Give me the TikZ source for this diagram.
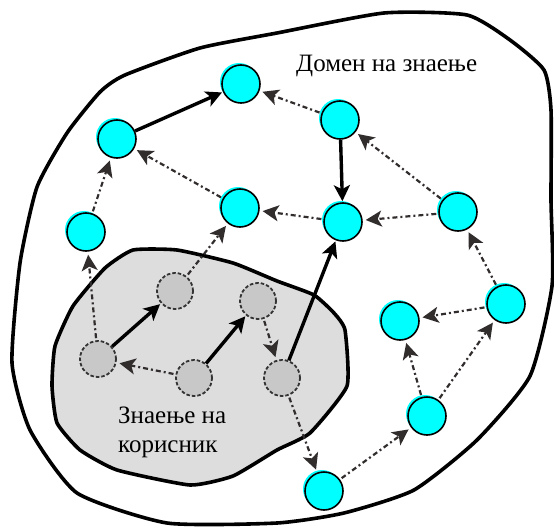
\documentclass[tikz,border=0pt]{standalone}
\usepackage{fontspec}
\setmainfont{Liberation Serif}
\newfontfamily\cyrserif{Liberation Serif}
\usetikzlibrary{arrows.meta}
\definecolor{kcyan}{RGB}{0,255,255}
\definecolor{ufill}{RGB}{221,221,221}
\definecolor{unfill}{RGB}{200,200,200}
\definecolor{dotc}{RGB}{50,45,45}
\begin{document}
\begin{tikzpicture}[x=1pt,y=-1pt,
 knode/.style={circle,draw=black,line width=1.6pt,fill=kcyan,minimum size=38pt,inner sep=0pt},
 unode/.style={circle,draw=black!80,dash pattern=on 3.5pt off 2pt,line width=1.8pt,fill=unfill,minimum size=36pt,inner sep=0pt},
 solidarr/.style={line width=3.4pt,-{Stealth[length=16pt,width=16pt,inset=4pt]},shorten >=1pt},
 dotarr/.style={line width=2.2pt,draw=dotc,dash pattern=on 5pt off 3pt on 2pt off 3pt,-{Stealth[length=16pt,width=16pt,inset=4pt]},shorten >=3pt,shorten <=2pt},
 blob/.style={line width=3.6pt,line join=round},
 lbl/.style={font=\cyrserif\fontsize{25}{29}\selectfont,inner sep=0pt,align=left}
]
\useasboundingbox (0,0) rectangle (554,527);
% outer domain
\draw[blob] plot[smooth cycle,tension=0.35] coordinates {(200,48) (277,33) (384,13) (467,15) (510,40) (544,70) (551,110) (551,200) (552,286) (530,376) (477,440) (414,490) (344,513) (277,523) (167,523) (77,493) (30,430) (12,363) (20,263) (37,187) (67,133) (100,92) (125,75)};
% user knowledge
\draw[blob,fill=ufill] plot[smooth cycle,tension=0.3] coordinates {(133,250) (177,250) (233,263) (277,281) (314,295) (334,313) (345,330) (347,386) (310,433) (277,450) (233,476) (190,485) (117,470) (80,450) (57,423) (52,386) (55,346) (73,306) (105,268)};
% knowledge nodes
\foreach \x/\y/\n in {117/139/A,241/84/B,340/120/C,240/208/D,343/222/E,458/212/F,86/232/G,400/321/H,506/304/I,427/416/J,324/491/K}{
  \fill[kcyan] (\x-2,\y-2) circle[radius=19pt];
  \node[knode] (\n) at (\x,\y) {};
}
% user nodes
\node[unode] (g1) at (175,291) {};
\node[unode] (g2) at (258,301) {};
\node[unode] (g3) at (98,359) {};
\node[unode] (g4) at (194,378) {};
\node[unode] (g5) at (282,378) {};
% solid arrows
\draw[solidarr] (A) -- (B);
\draw[solidarr] (C) -- (E);
\draw[solidarr] (g3) -- (g1);
\draw[solidarr] (g4) -- (g2);
\draw[solidarr] (g5) -- (E);
% dotted arrows
\draw[dotarr] (C) -- (B);
\draw[dotarr] (D) -- (A);
\draw[dotarr] (G) -- (A);
\draw[dotarr] (E) -- (D);
\draw[dotarr] (F) -- (E);
\draw[dotarr] (F) -- (C);
\draw[dotarr] (I) -- (F);
\draw[dotarr] (g1) -- (D);
\draw[dotarr] (g3) -- (G);
\draw[dotarr] (g4) -- (g3);
\draw[dotarr] (g2) -- (g5);
\draw[dotarr] (g5) -- (K);
\draw[dotarr] (K) -- (J);
\draw[dotarr] (J) -- (H);
\draw[dotarr] (J) -- (I);
\draw[dotarr] (I) -- (H);
% labels
\node[lbl,anchor=west] (t1) at (296,66) {Домен на знаење};
\node[lbl,anchor=north west] (t2) at (118,407) {Знаење на\\корисник};
\end{tikzpicture}
\end{document}
